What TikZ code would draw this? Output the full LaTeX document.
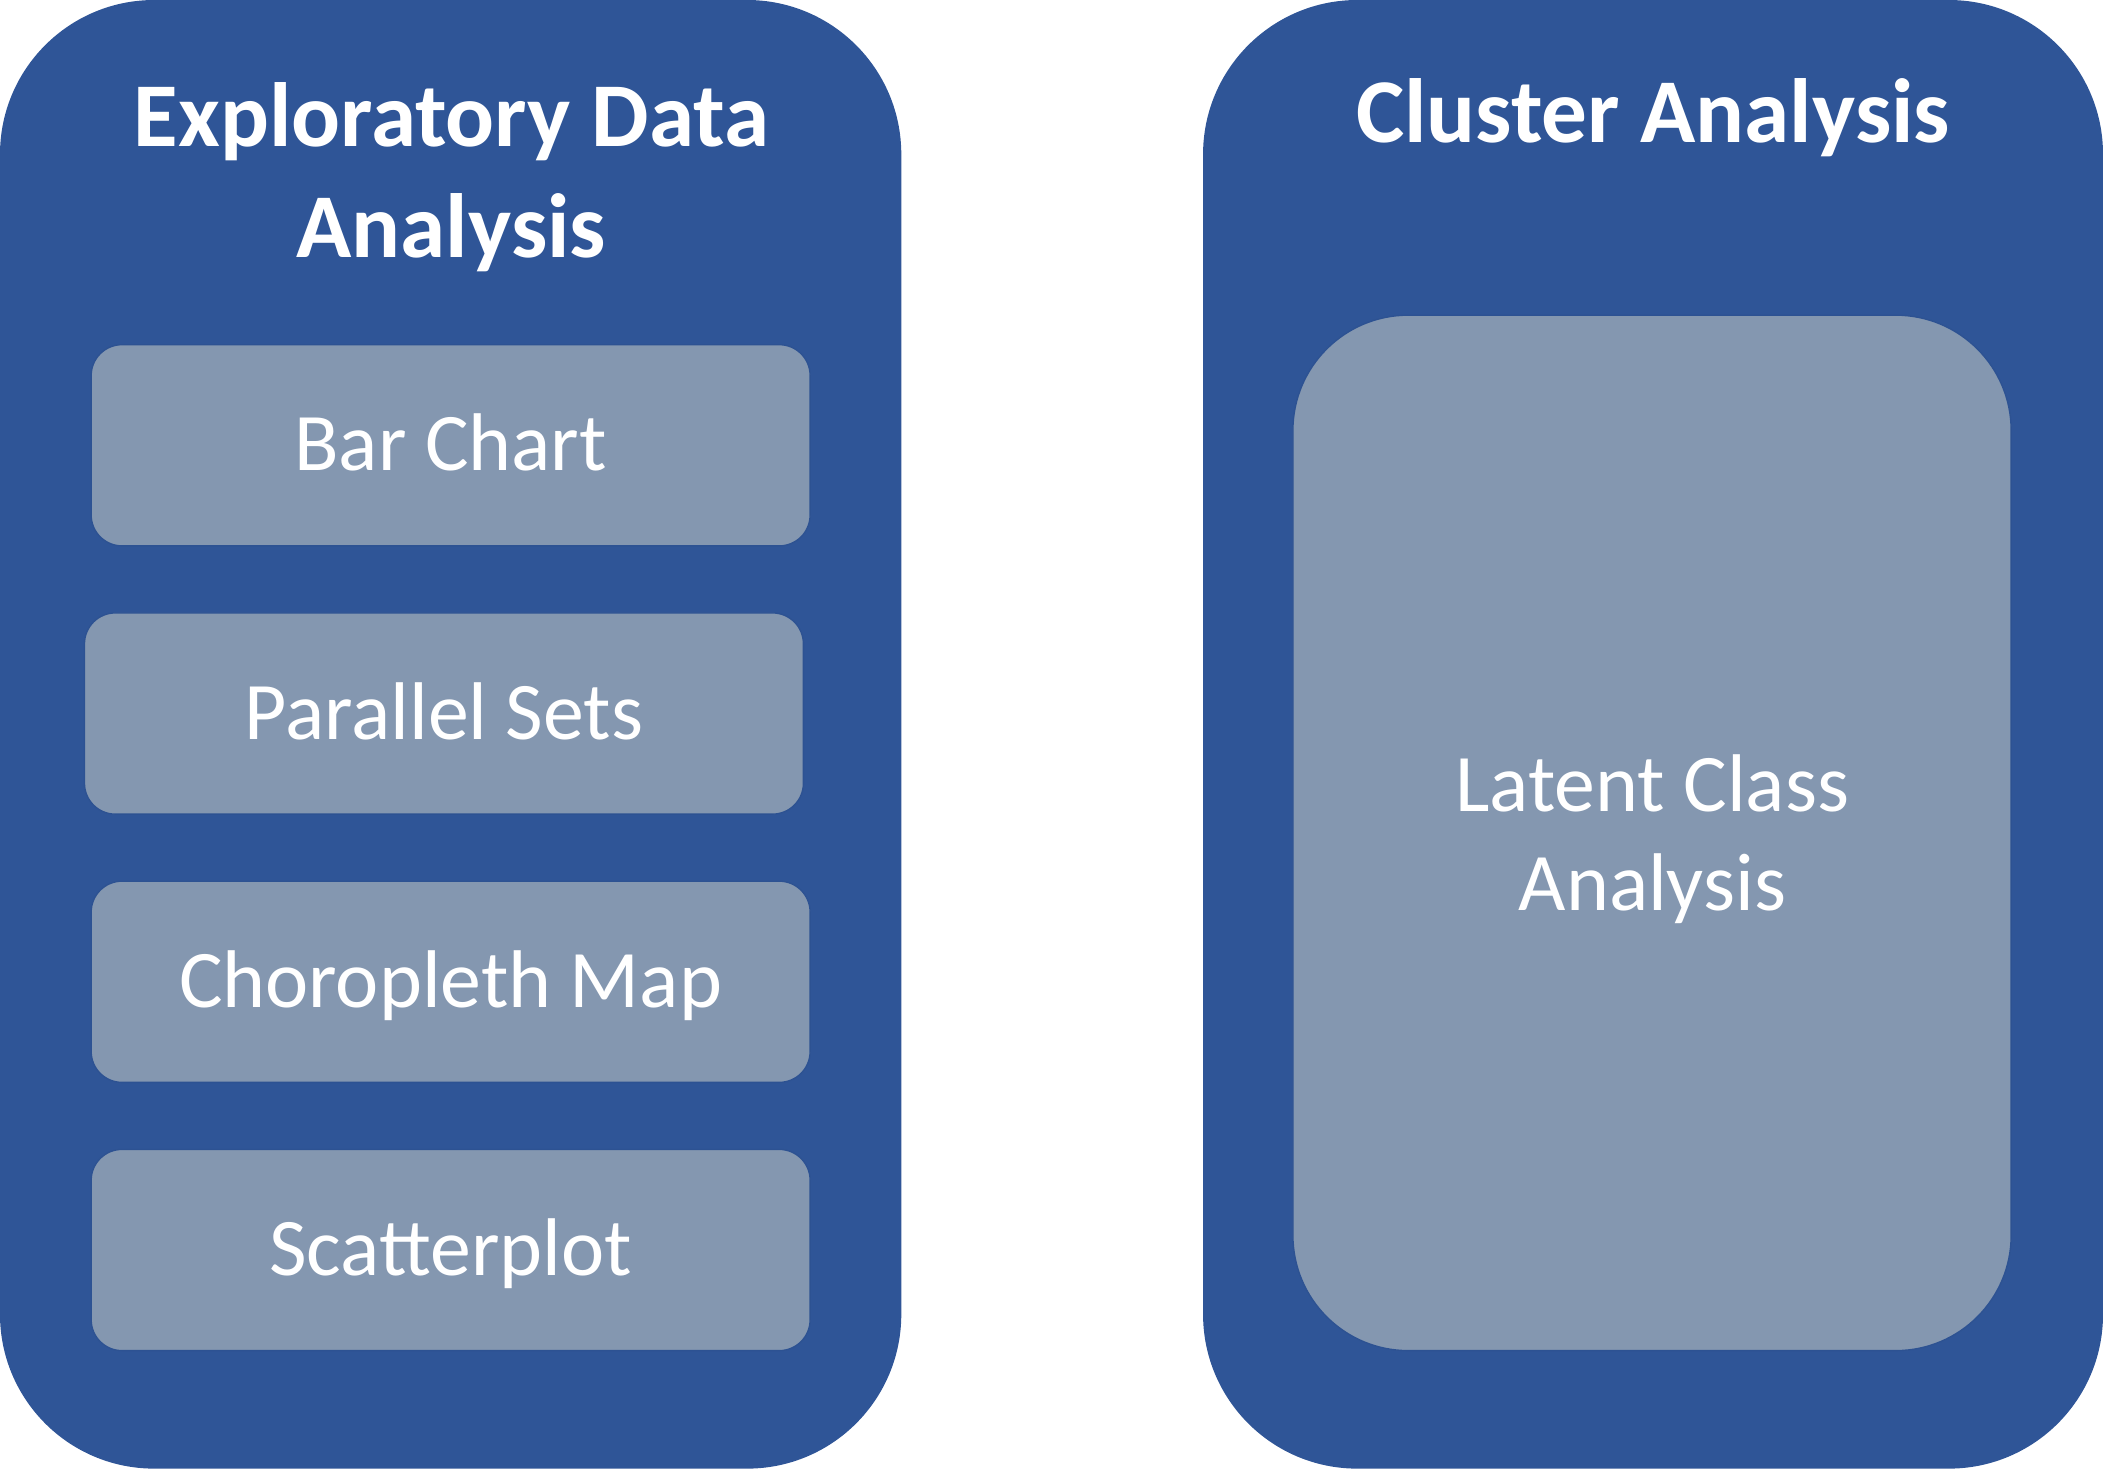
\documentclass[tikz,border=0pt]{standalone}
\usepackage{fontspec}
\setmainfont{Carlito}
\definecolor{outerblue}{HTML}{2F5597}
\definecolor{innergray}{HTML}{8497B0}
\definecolor{edgeblue}{HTML}{2D5292}
\tikzset{
  outerbox/.style={rectangle, fill=outerblue, rounded corners=115pt, inner sep=0pt, outer sep=0pt},
  itembox/.style={rectangle, fill=innergray, draw=edgeblue, line width=1pt, rounded corners=23pt,
    minimum width=536pt, minimum height=150pt, inner sep=0pt, outer sep=0pt, text=white,
    font={\fontsize{61}{73.6}\selectfont}, text height=38pt, text depth=0pt},
  bigitem/.style={rectangle, fill=innergray, draw=edgeblue, line width=1pt, rounded corners=86pt,
    minimum width=535.5pt, minimum height=772pt, inner sep=0pt, outer sep=0pt},
  titletext/.style={text=white, font={\bfseries\fontsize{68}{82.5}\selectfont}, align=center, inner sep=0pt},
  itemtext/.style={text=white, font={\fontsize{61}{73.6}\selectfont}, align=center, inner sep=0pt}
}
\begin{document}
\begin{tikzpicture}[x=1pt,y=-1pt]
\useasboundingbox (0,0) rectangle (1568,1095);
% outer panels
\node[outerbox, minimum width=672pt, minimum height=1095pt] (eda) at (336,547.5) {};
\node[outerbox, minimum width=671pt, minimum height=1095pt] (cla) at (1232.5,547.5) {};
% titles (anchor base = baseline of the last line)
\node[titletext, anchor=base] (edatitle) at (336.5,191.7) {Exploratory Data\\Analysis};
\node[titletext, anchor=base] (clatitle) at (1232.5,106.4) {Cluster Analysis};
% left items
\node[itembox] (bar) at (336,332) {Bar Chart};
\node[itembox] (par) at (331,532) {Parallel Sets};
\node[itembox] (cho) at (336,732) {Choropleth Map};
\node[itembox] (sca) at (336,932) {Scatterplot};
% right item
\node[bigitem] (lca) at (1231.75,621) {};
\node[itemtext, anchor=base] (lcatext) at (1232,678.6) {Latent Class\\Analysis};
\end{tikzpicture}
\end{document}
